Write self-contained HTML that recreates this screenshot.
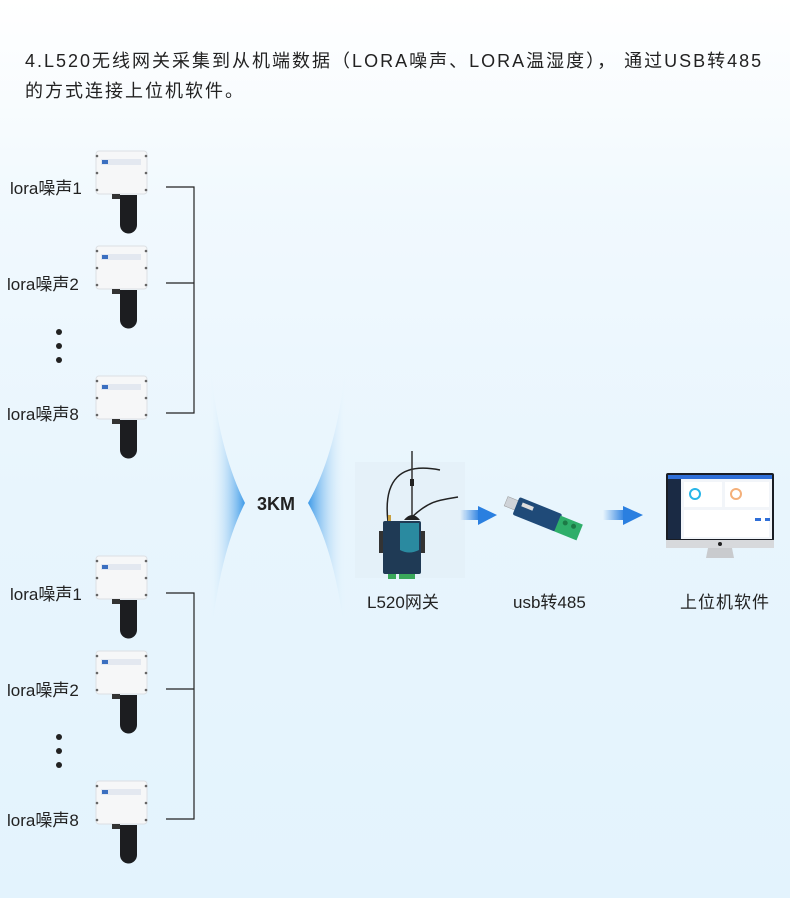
<!DOCTYPE html>
<html><head><meta charset="utf-8"><style>
html,body{margin:0;padding:0}
body{width:790px;height:898px;overflow:hidden;position:relative;background:linear-gradient(#ffffff 0px,#f1f9fe 200px,#e8f5fd 500px,#e3f3fd 898px);font-family:"Liberation Sans","Noto Sans CJK SC",sans-serif;color:#222}
.t{position:absolute;left:25px;font-size:18px;letter-spacing:2px;white-space:nowrap}
.lab{position:absolute;font-size:17px;white-space:nowrap;color:#222}
</style></head><body>
<div class="t" style="top:47px">4.L520无线网关采集到从机端数据（LORA噪声、LORA温湿度）， 通过USB转485</div>
<div class="t" style="top:77px">的方式连接上位机软件。</div>

<svg width="790" height="898" style="position:absolute;left:0;top:0">
<defs>
<linearGradient id="wl" x1="0" x2="1" y1="0" y2="0"><stop offset="0" stop-color="#e8f5fd" stop-opacity="0"/><stop offset="1" stop-color="#3d9ae8"/></linearGradient>
<linearGradient id="wr" x1="1" x2="0" y1="0" y2="0"><stop offset="0" stop-color="#e8f5fd" stop-opacity="0"/><stop offset="1" stop-color="#3d9ae8"/></linearGradient>
<linearGradient id="ar" x1="0" x2="1"><stop offset="0" stop-color="#2a7fe0" stop-opacity="0"/><stop offset="1" stop-color="#2a7fe0"/></linearGradient>
<g id="sensor">
<rect x="96" y="0" width="51" height="43" rx="3" fill="#f6f7f8" stroke="#dcdfe3"/>
<rect x="101" y="8" width="40" height="6" fill="#e3e8f0"/>
<rect x="102" y="9" width="6" height="4" fill="#3b6fc0"/>
<circle cx="97" cy="5" r="1.3" fill="#666"/><circle cx="146" cy="5" r="1.3" fill="#666"/>
<circle cx="97" cy="22" r="1.3" fill="#666"/><circle cx="146" cy="22" r="1.3" fill="#666"/>
<circle cx="97" cy="39" r="1.3" fill="#666"/><circle cx="146" cy="39" r="1.3" fill="#666"/>
<rect x="112" y="43" width="8" height="5" fill="#333"/>
<path d="M120 44 h17 v30 a8.5 8.5 0 0 1 -17 0 z" fill="#1c1d20"/>
</g>
</defs>
<use href="#sensor" y="151"/>
<use href="#sensor" y="246"/>
<use href="#sensor" y="376"/>
<use href="#sensor" y="556"/>
<use href="#sensor" y="651"/>
<use href="#sensor" y="781"/>
<g stroke="#222" stroke-width="1.2" fill="none">
<path d="M166 187H194V413H166M166 283H194"/>
<path d="M166 593H194V819H166M166 689H194"/>
</g>
<g fill="#222"><circle cx="59" cy="332" r="3"/><circle cx="59" cy="346" r="3"/><circle cx="59" cy="360" r="3"/>
<circle cx="59" cy="737" r="3"/><circle cx="59" cy="751" r="3"/><circle cx="59" cy="765" r="3"/></g>
<path d="M210 360 Q218 450 245 503 Q218 556 210 650 Z" fill="url(#wl)"/>
<path d="M346 360 Q338 450 308 503 Q338 556 346 650 Z" fill="url(#wr)"/>
<text x="257" y="510" font-size="18" font-weight="bold" font-family="Liberation Sans,sans-serif" fill="#222">3KM</text>
<!-- gateway -->
<rect x="355" y="462" width="110" height="116" fill="#e2eef6" opacity="0.6"/>
<path d="M388 522 C383 480 400 462 440 470" stroke="#222" stroke-width="1.5" fill="none"/>
<path d="M412 517 C430 500 440 500 458 497" stroke="#222" stroke-width="1.5" fill="none"/>
<line x1="412" y1="451" x2="412" y2="518" stroke="#333" stroke-width="1.5"/>
<rect x="410" y="479" width="4" height="7" fill="#222"/>
<path d="M404 520 Q412 510 420 520 Z" fill="#222"/>
<rect x="388" y="515" width="3" height="8" fill="#c8a040"/>
<rect x="379" y="531" width="6" height="22" fill="#333"/>
<rect x="419" y="531" width="6" height="22" fill="#333"/>
<rect x="383" y="521" width="38" height="53" rx="2" fill="#1f3a55"/>
<path d="M400 523 h19 v27 q-10 5 -19 0 z" fill="#2a8aa0"/>
<rect x="388" y="574" width="8" height="5" fill="#3aa85a"/><rect x="399" y="574" width="16" height="5" fill="#3aa85a"/>
<!-- arrows -->
<rect x="460" y="510" width="20" height="10" fill="url(#ar)"/>
<path d="M478 506 L497 515 L478 525 Z" fill="#2a7fe0"/>
<rect x="603" y="510" width="22" height="10" fill="url(#ar)"/>
<path d="M623 506 L643 515 L623 525 Z" fill="#2a7fe0"/>
<!-- usb -->
<g transform="rotate(22 537 518)">
<rect x="502" y="509" width="12" height="10" fill="#cfd3d8" stroke="#999" stroke-width="0.5"/>
<rect x="513" y="505" width="46" height="19" rx="2" fill="#1f4a78"/>
<rect x="518" y="509" width="12" height="4" fill="#ddd"/>
<rect x="558" y="507" width="24" height="17" fill="#2fae6a"/>
<circle cx="565" cy="512" r="2.5" fill="#1c7a46"/><circle cx="574" cy="512" r="2.5" fill="#1c7a46"/>
</g>
<!-- monitor -->
<rect x="666" y="473" width="108" height="68" rx="2" fill="#1a1d24"/>
<rect x="668" y="475" width="104" height="64" fill="#f2f5f9"/>
<rect x="668" y="475" width="104" height="4" fill="#2f6fd8"/>
<rect x="668" y="479" width="13" height="60" fill="#1a2a44"/>
<rect x="684" y="482" width="38" height="25" fill="#fff"/>
<rect x="725" y="482" width="44" height="25" fill="#fff"/>
<circle cx="695" cy="494" r="5" fill="none" stroke="#28b5e8" stroke-width="2"/>
<circle cx="736" cy="494" r="5" fill="none" stroke="#f4b07a" stroke-width="2"/>
<rect x="684" y="510" width="85" height="27" fill="#fff"/>
<rect x="755" y="518" width="6" height="3" fill="#2f6fd8"/><rect x="765" y="518" width="5" height="3" fill="#2f6fd8"/>
<rect x="666" y="540" width="108" height="8" fill="#d7d9dc"/>
<circle cx="720" cy="544" r="2" fill="#222"/>
<path d="M708 548 h24 l2 10 h-28 z" fill="#c9cbce"/>
</svg>

<div class="lab" style="left:10px;top:174px">lora噪声1</div>
<div class="lab" style="left:7px;top:270px">lora噪声2</div>
<div class="lab" style="left:7px;top:400px">lora噪声8</div>
<div class="lab" style="left:10px;top:580px">lora噪声1</div>
<div class="lab" style="left:7px;top:676px">lora噪声2</div>
<div class="lab" style="left:7px;top:806px">lora噪声8</div>
<div class="lab" style="left:367px;top:588px">L520网关</div>
<div class="lab" style="left:513px;top:588px">usb转485</div>
<div class="lab" style="left:680px;top:588px;letter-spacing:1px">上位机软件</div>
</body></html>
